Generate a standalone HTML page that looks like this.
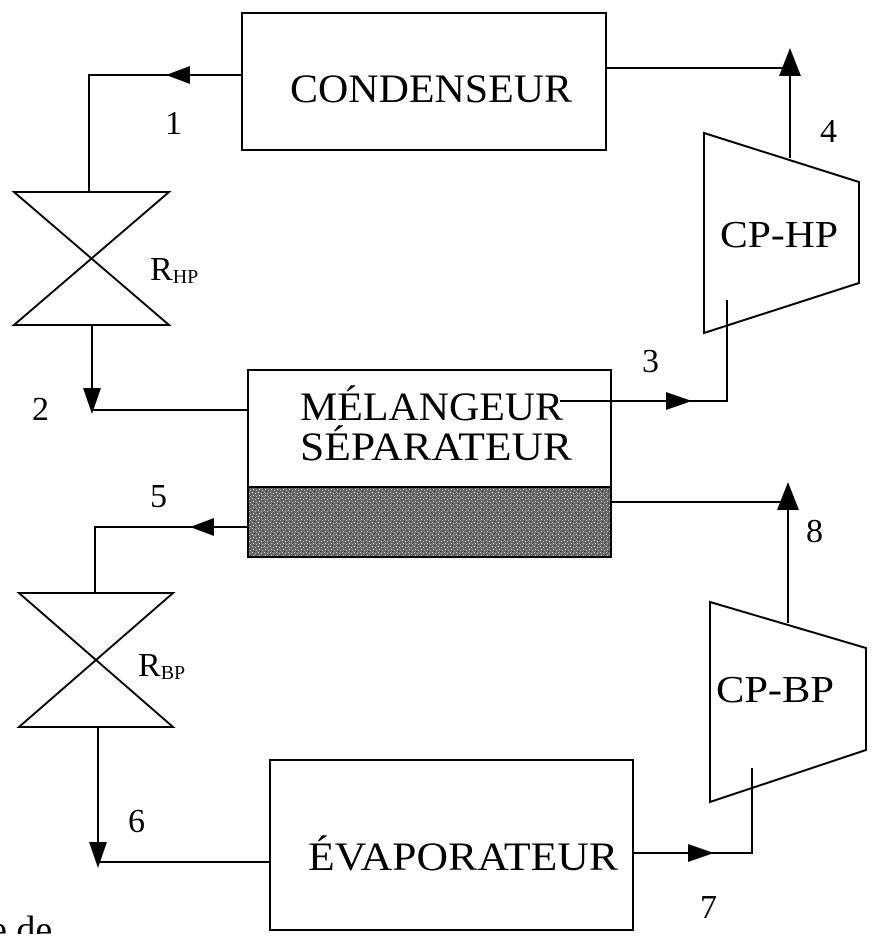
<!DOCTYPE html>
<html><head><meta charset="utf-8"><style>
body{margin:0;background:#fff;width:874px;height:934px;overflow:hidden}
text{font-family:"Liberation Serif",serif;fill:#000}
</style></head><body>
<svg width="874" height="934" viewBox="0 0 874 934" xmlns="http://www.w3.org/2000/svg">
<defs>
<pattern id="n" width="6" height="6" patternUnits="userSpaceOnUse">
<rect width="6" height="6" fill="#6a6a6a"/>
<rect x="0" y="0" width="1" height="1" fill="#ccc"/><rect x="3" y="1" width="1" height="1" fill="#bbb"/>
<rect x="1" y="3" width="1" height="1" fill="#ccc"/><rect x="4" y="4" width="1" height="1" fill="#aaa"/>
<rect x="2" y="5" width="1" height="1" fill="#333"/><rect x="5" y="2" width="1" height="1" fill="#444"/>
</pattern>
</defs>
<g stroke="#000" stroke-width="2" fill="none">
<rect x="242" y="13" width="364" height="137" fill="#fff"/>
<polyline points="242,75 89,75 89,192"/>
<polyline points="606,68 790,68 790,158"/>
<polygon points="14,192 169,192 14,325 169,325"/>
<polyline points="92,325 92,410 248,410"/>
<rect x="248" y="370" width="363" height="187" fill="#fff"/>
<rect x="248" y="487" width="363" height="70" fill="url(#n)"/>
<polyline points="560,401 727,401 727,300"/>
<polygon points="704,133 859,182 859,283 704,333" fill="#fff"/>
<line x1="727" y1="300" x2="727" y2="326"/>
<line x1="790" y1="68" x2="790" y2="158"/>
<polyline points="248,527 95,527 95,593"/>
<polyline points="611,502 788,502 788,623"/>
<polygon points="19,593 173,593 19,727 173,727"/>
<polyline points="98,727 98,862 275,862"/>
<rect x="270" y="760" width="363" height="170" fill="#fff"/>
<polyline points="633,853 752,853 752,768"/>
<polygon points="710,602 866,648 866,750 710,802" fill="#fff"/>
<line x1="752" y1="768" x2="752" y2="790"/>
</g>
<g fill="#000">
<polygon points="166,75 190,66 190,84"/>
<polygon points="790,48 779,76 801,76"/>
<polygon points="92,414 83,388 101,388"/>
<polygon points="692,401 666,392 666,410"/>
<polygon points="190,527 214,518 214,536"/>
<polygon points="788,482 777,510 799,510"/>
<polygon points="98,868 89,842 107,842"/>
<polygon points="714,853 688,844 688,862"/>
</g>
<text x="290" y="102" font-size="40" textLength="282" lengthAdjust="spacingAndGlyphs">CONDENSEUR</text>
<text x="165" y="134" font-size="34">1</text>
<text x="820" y="142" font-size="34">4</text>
<text x="720" y="247" font-size="38" textLength="118" lengthAdjust="spacingAndGlyphs">CP-HP</text>
<text x="150" y="280" font-size="34">R<tspan font-size="20" dy="3">HP</tspan></text>
<text x="642" y="372" font-size="34">3</text>
<text x="32" y="420" font-size="34">2</text>
<text x="300" y="420" font-size="40" textLength="263" lengthAdjust="spacingAndGlyphs">MÉLANGEUR</text>
<text x="300" y="460" font-size="40" textLength="272" lengthAdjust="spacingAndGlyphs">SÉPARATEUR</text>
<text x="150" y="507" font-size="34">5</text>
<text x="806" y="542" font-size="34">8</text>
<text x="138" y="676" font-size="34">R<tspan font-size="20" dy="3">BP</tspan></text>
<text x="716" y="702" font-size="38" textLength="118" lengthAdjust="spacingAndGlyphs">CP-BP</text>
<text x="128" y="832" font-size="34">6</text>
<text x="308" y="870" font-size="40" textLength="310" lengthAdjust="spacingAndGlyphs">ÉVAPORATEUR</text>
<text x="700" y="918" font-size="34">7</text>
<text x="-10" y="942" font-size="38">e de</text>
</svg>
</body></html>
